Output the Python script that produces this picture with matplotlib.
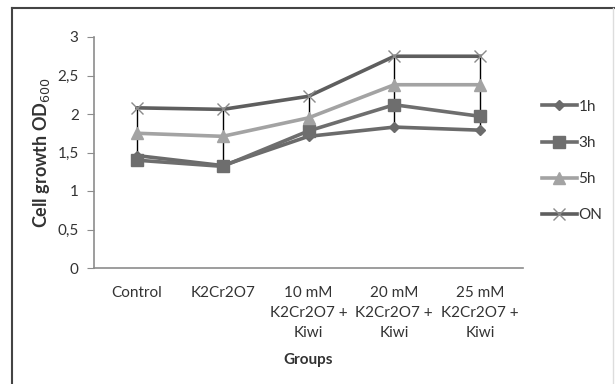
import numpy as np
from matplotlib import pyplot as plt
from matplotlib.lines import Line2D

plt.rcParams['font.family'] = ['Lato', 'DejaVu Sans']

groups = ['Control', 'K2Cr2O7', '10 mM\nK2Cr2O7 +\nKiwi', '20 mM\nK2Cr2O7 +\nKiwi', '25 mM\nK2Cr2O7 +\nKiwi']
series_names = ['1h', '3h', '5h', 'ON']
od_1h = [1.46, 1.33, 1.71, 1.83, 1.79]
od_3h = [1.40, 1.32, 1.78, 2.12, 1.97]
od_5h = [1.75, 1.71, 1.95, 2.38, 2.38]
od_on = [2.08, 2.06, 2.23, 2.75, 2.75]
y_ticks = [0, 0.5, 1, 1.5, 2, 2.5, 3]
y_tick_labels = ['0', '0,5', '1', '1,5', '2', '2,5', '3']

fig = plt.figure(figsize=(6.15, 3.84), dpi=100)
ax = fig.add_axes([94 / 615, 1 - 268 / 384, (523 - 94) / 615, (268 - 37) / 384])

x = np.arange(len(groups)) + 0.5
all_series = np.array([od_1h, od_3h, od_5h, od_on])

# high-low lines like the excel chart
ax.vlines(x, all_series.min(axis=0), all_series.max(axis=0), color='black', lw=1, zorder=1)

styles = [
    ('#6b6b6b', 'D', 5, od_1h),
    ('#6e6e6e', 's', 8, od_3h),
    ('#a3a3a3', '^', 8, od_5h),
    ('#5e5e5e', 'x', 9, od_on),
]
for name, (col, mk, ms, vals) in zip(series_names, styles):
    ax.plot(x, vals, color=col, lw=2.6, marker=mk, markersize=ms,
            markeredgewidth=1, zorder=2,
            markeredgecolor=col if mk != 'x' else '#8a8a8a', label=name)

ax.set_xlim(0, 5)
ax.set_ylim(0, 3)
ax.set_yticks(y_ticks)
ax.set_yticklabels(y_tick_labels)
ax.set_xticks(x)
ax.set_xticklabels(groups, linespacing=1.55)
ax.tick_params(axis='y', length=5, color='#8c8c8c', labelsize=11, labelcolor='#333333', pad=6)
ax.tick_params(axis='x', length=0, labelsize=11, labelcolor='#333333', pad=13)
for s in ['top', 'right']:
    ax.spines[s].set_visible(False)
for s in ['left', 'bottom']:
    ax.spines[s].set_color('#8c8c8c')
    ax.spines[s].set_linewidth(1.2)

ax.set_ylabel('Cell growth OD$_{600}$', fontsize=13, fontweight='bold', color='#333333', labelpad=4)
fig.text(308 / 615, 1 - 360 / 384, 'Groups', ha='center', va='center',
         fontsize=11, fontweight='bold', color='#333333')

leg = ax.legend(loc='center left', bbox_to_anchor=(1.012, 0.463), frameon=False,
                fontsize=11, labelspacing=1.45, handlelength=2.3, handletextpad=0.1,
                labelcolor='#333333')

# outer frame of the figure
fig.add_artist(Line2D([12 / 615, 12 / 615], [0, 1 - 8 / 384], transform=fig.transFigure,
                      color='#444444', lw=1.5))
fig.add_artist(Line2D([12 / 615, 1], [1 - 8 / 384, 1 - 8 / 384], transform=fig.transFigure,
                      color='#444444', lw=1.5))
fig.add_artist(Line2D([613 / 615, 613 / 615], [0, 1 - 8 / 384], transform=fig.transFigure,
                      color='#dddddd', lw=1))

fig.savefig('out.png', dpi=100)
